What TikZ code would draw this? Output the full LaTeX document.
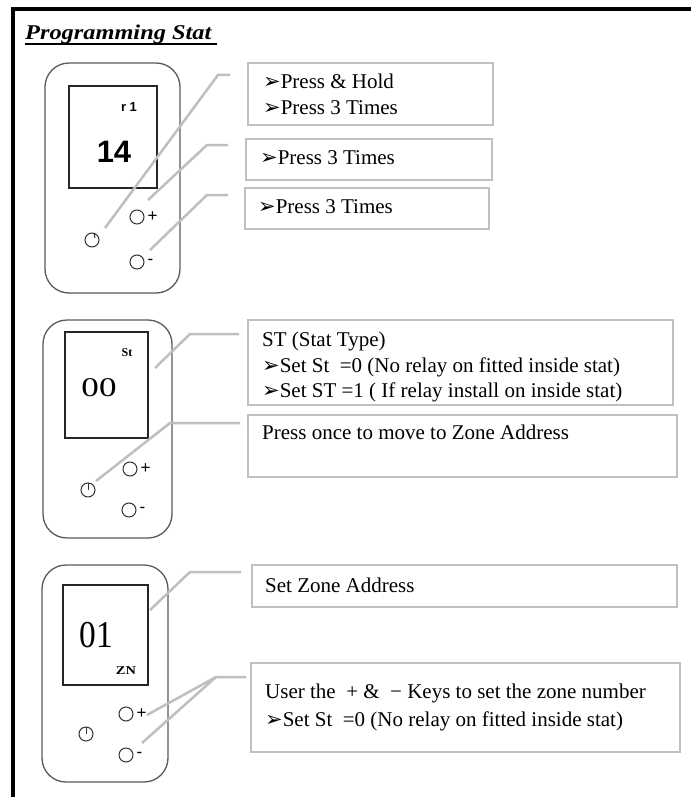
\documentclass[tikz,border=0pt]{standalone}
\usepackage{fontspec}
\usetikzlibrary{positioning}
\setmainfont{Liberation Serif}
\newfontfamily\arialfont{Liberation Sans}
\newfontfamily\dingfont{DejaVu Sans}
\definecolor{statgray}{HTML}{5A5A5A}
\definecolor{boxgray}{HTML}{BFBFBF}
\newcommand{\bul}{{\dingfont\fontsize{21}{21}\selectfont ➢}}
\begin{document}
\begin{tikzpicture}[x=1pt,y=-1pt]
\tikzset{
  statbody/.style={draw=statgray, line width=1.3pt, rounded corners=24pt, anchor=north west, inner sep=0pt, outer sep=0pt},
  screen/.style={draw=black!85, line width=1.2pt, anchor=north west, inner sep=0pt, outer sep=0pt},
  btn/.style={circle, draw=black!80, line width=1pt, minimum size=14pt, inner sep=0pt},
  infobox/.style={draw=boxgray, line width=2.5pt, anchor=north west, inner sep=0pt, outer sep=0pt},
  infotext/.style={anchor=base west, font=\fontsize{21}{25}\selectfont, inner sep=0pt},
  leader/.style={draw=boxgray, line width=2.5pt},
  sign/.style={font=\arialfont\fontsize{17}{17}\selectfont, inner sep=0pt},
  tag/.style={font=\bfseries\fontsize{12}{12}\selectfont, inner sep=0pt},
}
\useasboundingbox (0,0) rectangle (691,797);
\fill[white] (0,0) rectangle (691,797);

% page frame (top and left rules)
\draw[line width=4pt] (13,797) -- (13,9) -- (691,9);

% heading
\node[anchor=base west, inner sep=0pt, font=\bfseries\itshape\fontsize{21}{21}\selectfont] (title) at (25,40) {\scalebox{1.16}[1]{Programming Stat}};
\draw[line width=1.3pt] (25,44) -- (217,44);

% ---------- stat 1 ----------
\node[statbody, minimum width=135pt, minimum height=230pt] (s1) at (45,63) {};
\node[screen, minimum width=88pt, minimum height=102pt] (scr1) at (69,86) {};
\node[font=\arialfont\bfseries\fontsize{13}{13}\selectfont, inner sep=0pt] (r1) at (129,107) {r 1};
\node[font=\arialfont\bfseries\fontsize{31}{31}\selectfont, inner sep=0pt] (n1) at (114,152) {14};
\node[btn] (pw1) at (92,240) {};
\draw[line width=1pt, black!80] (pw1.north) ++(2,0.5) -- ++(1,5);
\node[btn] (pl1) at (137,217) {};
\node[btn] (mi1) at (137,262) {};
\node[sign, right=3pt of pl1] (pls1) {+};
\node[sign, right=3pt of mi1] (mis1) {-};

\node[infobox, minimum width=245pt, minimum height=62pt] (b1) at (248,63) {};
\node[infobox, minimum width=246pt, minimum height=41pt] (b2) at (246,139) {};
\node[infobox, minimum width=244pt, minimum height=41pt] (b3) at (245,188) {};
\node[infotext] (t1a) at (263,89) {\bul Press \& Hold};
\node[infotext] (t1b) at (263,114) {\bul Press 3 Times};
\node[infotext] (t2) at (260,164) {\bul Press 3 Times};
\node[infotext] (t3) at (258,213) {\bul Press 3 Times};

\coordinate (c1s) at (105,228); \coordinate (c1k) at (218,75); \coordinate (c1e) at (230,75);
\coordinate (c2s) at (148,200); \coordinate (c2k) at (207,145); \coordinate (c2e) at (228,145);
\coordinate (c3s) at (150,250); \coordinate (c3k) at (207,195); \coordinate (c3e) at (228,195);
\draw[leader] (c1s) -- (c1k) -- (c1e);
\draw[leader] (c2s) -- (c2k) -- (c2e);
\draw[leader] (c3s) -- (c3k) -- (c3e);

% ---------- stat 2 ----------
\node[statbody, minimum width=129pt, minimum height=218pt] (s2) at (43,320) {};
\node[screen, minimum width=83pt, minimum height=106pt] (scr2) at (65,332) {};
\node[tag] (st) at (127,353) {St};
\node[font=\fontsize{27}{27}\selectfont, inner sep=0pt] (n2) at (99,388) {\scalebox{1.3}[1]{00}};
\node[btn] (pw2) at (88,490) {};
\draw[line width=1pt, black!80] (pw2.north) -- (pw2.center);
\node[btn] (pl2) at (130,469) {};
\node[btn] (mi2) at (129,510) {};
\node[sign, right=3pt of pl2] (pls2) {+};
\node[sign, right=3pt of mi2] (mis2) {-};

\node[infobox, minimum width=425pt, minimum height=85pt] (b4) at (248,320) {};
\node[infobox, minimum width=429pt, minimum height=62pt] (b5) at (248,415) {};
\node[infotext] (t4a) at (262,346) {ST (Stat Type)};
\node[infotext] (t4b) at (262,372) {\bul Set St \ =0 (No relay on fitted inside stat)};
\node[infotext] (t4c) at (262,397) {\bul Set ST =1 ( If relay install on inside stat)};
\node[infotext] (t5) at (262,439) {Press once to move to Zone Address};

\coordinate (c4s) at (155,368); \coordinate (c4k) at (190,334); \coordinate (c4e) at (239,334);
\coordinate (c5s) at (96,481); \coordinate (c5k) at (170,423); \coordinate (c5e) at (240,423);
\draw[leader] (c4s) -- (c4k) -- (c4e);
\draw[leader] (c5s) -- (c5k) -- (c5e);

% ---------- stat 3 ----------
\node[statbody, minimum width=126pt, minimum height=217pt] (s3) at (42,565) {};
\node[screen, minimum width=85pt, minimum height=100pt] (scr3) at (63,585) {};
\node[font=\fontsize{38}{38}\selectfont, inner sep=0pt] (n3) at (96,635) {\scalebox{0.88}[1]{01}};
\node[tag, font=\bfseries\fontsize{12}{12}\selectfont] (zn) at (126,671) {\scalebox{1.2}[1]{ZN}};
\node[btn] (pw3) at (86,734) {};
\draw[line width=1pt, black!80] (pw3.north) -- (pw3.center);
\node[btn] (pl3) at (126,714) {};
\node[btn] (mi3) at (126,755) {};
\node[sign, right=3pt of pl3] (pls3) {+};
\node[sign, right=3pt of mi3] (mis3) {-};

\node[infobox, minimum width=425pt, minimum height=42pt] (b6) at (252,565) {};
\node[infobox, minimum width=429pt, minimum height=89pt] (b7) at (251,663) {};
\node[infotext] (t6) at (265,592) {Set Zone Address};
\node[infotext] (t7a) at (265,698) {User the \ + \& \ − Keys to set the zone number};
\node[infotext] (t7b) at (265,726) {\bul Set St \ =0 (No relay on fitted inside stat)};

\coordinate (c6s) at (150,610); \coordinate (c6k) at (190,572); \coordinate (c6e) at (241,572);
\coordinate (c7a) at (147,715); \coordinate (c7b) at (142,743);
\coordinate (c7k) at (216,677); \coordinate (c7e) at (246,677);
\draw[leader] (c6s) -- (c6k) -- (c6e);
\draw[leader] (c7a) -- (c7k) -- (c7e);
\draw[leader] (c7b) -- (c7k);
\end{tikzpicture}
\end{document}
